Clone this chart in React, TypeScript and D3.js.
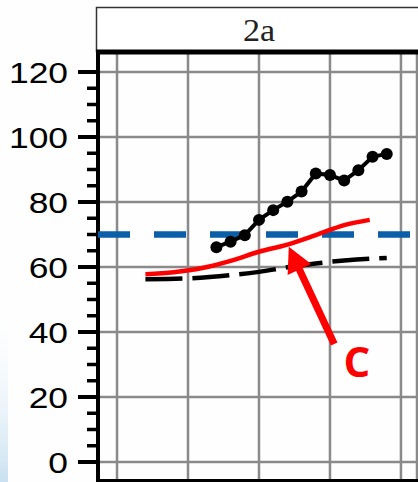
import React from 'react';
import * as d3 from 'd3';

const W = 418;
const H = 482;

const panelTitle = '2a';
const yTicks = [0, 20, 40, 60, 80, 100, 120];
const yMinorTicks = [5, 10, 15, 25, 30, 35, 45, 50, 55, 65, 70, 75, 85, 90, 95, 105, 110, 115];
const xGridYears = [1990, 1995, 2000, 2005, 2010];
const xDomain = [1988.66, 2011.13];

const dotYears = [1997, 1998, 1999, 2000, 2001, 2002, 2003, 2004, 2005, 2006, 2007, 2008, 2009];
const dotValues = [66.1, 67.8, 69.8, 74.5, 77.5, 80.1, 83.2, 88.8, 88.3, 86.6, 89.8, 93.9, 94.8];

const redYears = [1992, 1994, 1996, 1998, 2000, 2002, 2004, 2006, 2007.8];
const redValues = [57.8, 58.4, 59.7, 61.9, 64.7, 66.9, 69.8, 72.9, 74.5];

const dashYears = [1992, 1995, 1998, 2000, 2002, 2004, 2006, 2008, 2009];
const dashValues = [56.2, 56.5, 57.5, 58.5, 59.9, 61.1, 62.0, 62.6, 62.8];

const targetValue = 70;

const annotationLabel = 'C';
const arrowTip = [2002.1, 66.2];
const arrowTail = [2005.3, 36.3];
const labelPos = [2006.9, 26.2];

export default function App() {
  const x = d3.scaleLinear().domain(xDomain).range([98, 417]);
  const y = d3.scaleLinear().domain([0, 120]).range([462, 72]);
  const panelTop = 52;
  const x0 = x(xDomain[0]);

  const smooth = d3
    .line<[number, number]>()
    .x((d) => x(d[0]))
    .y((d) => y(d[1]))
    .curve(d3.curveMonotoneX);
  const straight = d3
    .line<[number, number]>()
    .x((d) => x(d[0]))
    .y((d) => y(d[1]));

  const redPts = redYears.map((t, i) => [t, redValues[i]] as [number, number]);
  const dashPts = dashYears.map((t, i) => [t, dashValues[i]] as [number, number]);
  const dotPts = dotYears.map((t, i) => [t, dotValues[i]] as [number, number]);

  // arrow polygon
  const tx = x(arrowTip[0]);
  const ty = y(arrowTip[1]);
  const sx = x(arrowTail[0]);
  const sy = y(arrowTail[1]);
  const len = Math.hypot(tx - sx, ty - sy);
  const ux = (tx - sx) / len;
  const uy = (ty - sy) / len;
  const px = -uy;
  const py = ux;
  const headLen = 25;
  const headHalf = 13;
  const shaftHalf = 3.6;
  const bx = tx - ux * headLen;
  const by = ty - uy * headLen;
  const arrowPoly = [
    [sx + px * shaftHalf, sy + py * shaftHalf],
    [bx + px * shaftHalf, by + py * shaftHalf],
    [bx + px * headHalf, by + py * headHalf],
    [tx, ty],
    [bx - px * headHalf, by - py * headHalf],
    [bx - px * shaftHalf, by - py * shaftHalf],
    [sx - px * shaftHalf, sy - py * shaftHalf],
  ]
    .map((p) => p.join(','))
    .join(' ');

  const grid = '#8a8a8a';

  return (
    <svg
      width={W}
      height={H}
      viewBox={`0 0 ${W} ${H}`}
      style={{ position: 'absolute', left: 0, top: 0, display: 'block' }}
    >
      <defs>
        <linearGradient id="bgblue" x1="0" y1="0" x2="0" y2="1">
          <stop offset="0" stopColor="#ffffff" stopOpacity="0" />
          <stop offset="1" stopColor="#c9e1f0" stopOpacity="1" />
        </linearGradient>
      </defs>
      <rect x={0} y={0} width={W} height={H} fill="#fefefe" />
      <rect x={0} y={300} width={8} height={182} fill="url(#bgblue)" />

      {/* strip */}
      <rect x={96.5} y={7.5} width={340} height={44} fill="#ffffff" stroke="#333" strokeWidth={1.5} />
      <text
        transform={`translate(${x(2000)},41) scale(1.1,1)`}
        textAnchor="middle"
        fontFamily="'Liberation Serif', 'Times New Roman', serif"
        fontSize={31}
        fill="#222"
      >
        {panelTitle}
      </text>

      {/* gridlines */}
      {yTicks.map((t) => (
        <line key={'h' + t} x1={x0} x2={W} y1={y(t)} y2={y(t)} stroke={grid} strokeWidth={2.5} />
      ))}
      {[...xGridYears, xDomain[1]].map((t) => (
        <line key={'v' + t} x1={x(t)} x2={x(t)} y1={panelTop} y2={H} stroke={grid} strokeWidth={2.5} />
      ))}

      {/* frame */}
      <line x1={96} x2={W} y1={panelTop} y2={panelTop} stroke="#000" strokeWidth={5} />
      <line x1={96} x2={W} y1={480.5} y2={480.5} stroke="#000" strokeWidth={3} />
      <line x1={x0} x2={x0} y1={panelTop - 2} y2={H} stroke="#000" strokeWidth={4} />

      {/* ticks */}
      {yTicks.map((t) => (
        <line key={'mt' + t} x1={78} x2={x0} y1={y(t)} y2={y(t)} stroke="#000" strokeWidth={4} />
      ))}
      {yMinorTicks.map((t) => (
        <line key={'mn' + t} x1={87} x2={x0} y1={y(t)} y2={y(t)} stroke="#000" strokeWidth={3.5} />
      ))}
      {yTicks.map((t) => (
        <text
          key={'lb' + t}
          transform={`translate(68,${y(t) + 11}) scale(1.18,1)`}
          textAnchor="end"
          fontFamily="'Liberation Sans', Arial, sans-serif"
          fontSize={30}
          fill="#000"
        >
          {t}
        </text>
      ))}

      {/* target line */}
      <line
        x1={x0}
        x2={W}
        y1={y(targetValue)}
        y2={y(targetValue)}
        stroke="#0b5ea8"
        strokeWidth={6.5}
        strokeDasharray="32 24"
      />

      {/* black dashed */}
      <path d={smooth(dashPts) || ''} fill="none" stroke="#000" strokeWidth={4.5} strokeDasharray="37 10" />

      {/* red */}
      <path d={smooth(redPts) || ''} fill="none" stroke="#ff0000" strokeWidth={4.5} />

      {/* observed dots */}
      <path d={straight(dotPts) || ''} fill="none" stroke="#000" strokeWidth={4} />
      {dotPts.map((d, i) => (
        <circle key={'c' + i} cx={x(d[0])} cy={y(d[1])} r={6} fill="#000" />
      ))}

      {/* annotation */}
      <polygon points={arrowPoly} fill="#ff0000" />
      <text
        x={x(labelPos[0])}
        y={y(labelPos[1])}
        textAnchor="middle"
        fontFamily="'Open Sans', 'Liberation Sans', sans-serif"
        fontWeight="bold"
        fontSize={42}
        fill="#ff0000"
      >
        {annotationLabel}
      </text>
    </svg>
  );
}
